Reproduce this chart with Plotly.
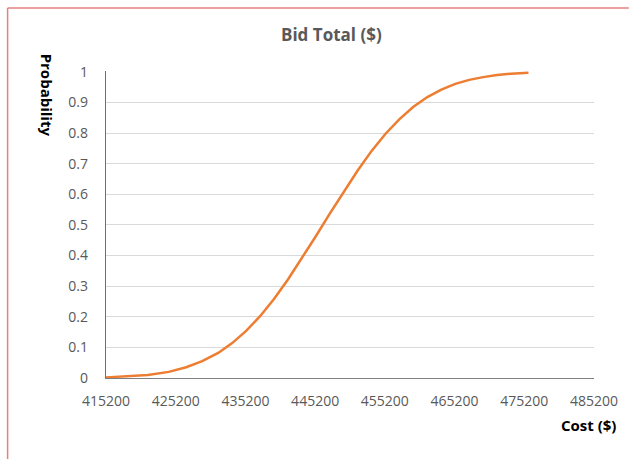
import plotly.graph_objects as go

# Cumulative probability of the bid total
cost = [415200, 418200, 421200, 424200, 426700, 429000, 431300, 433300, 435300,
        437300, 439300, 441300, 443300, 445300, 447300, 449300, 451300, 453300,
        455300, 457300, 459300, 461300, 463300, 465300, 467300, 469300, 471300,
        473300, 475800]
probability = [0.002, 0.005, 0.010, 0.020, 0.035, 0.055, 0.082, 0.114, 0.154,
               0.202, 0.258, 0.322, 0.391, 0.463, 0.537, 0.609, 0.678, 0.742,
               0.798, 0.846, 0.886, 0.918, 0.942, 0.961, 0.974, 0.983, 0.990,
               0.994, 0.997]

x_ticks = [415200, 425200, 435200, 445200, 455200, 465200, 475200, 485200]
y_ticks = [0, 0.1, 0.2, 0.3, 0.4, 0.5, 0.6, 0.7, 0.8, 0.9, 1]
y_tick_text = ["0", "0.1", "0.2", "0.3", "0.4", "0.5", "0.6", "0.7", "0.8", "0.9", "1"]

W, H = 630, 459
L, R, T, B = 106, 33, 71, 81
pw, ph = W - L - R, H - T - B

def px_x(p):
    return (p - L) / pw

def px_y(p):
    return (H - B - p) / ph

font = "Open Sans"
grey = "#595959"

fig = go.Figure()
fig.add_trace(go.Scatter(
    x=cost, y=probability, mode="lines",
    line=dict(color="#ED7D31", width=2.5),
    showlegend=False, hoverinfo="x+y",
))

fig.update_layout(
    width=W, height=H,
    margin=dict(l=L, r=R, t=T, b=B, pad=0),
    paper_bgcolor="white", plot_bgcolor="white",
    font=dict(family=font, color=grey, size=14),
    xaxis=dict(
        range=[415200, 485200], tickvals=x_ticks,
        ticktext=[str(v) for v in x_ticks],
        showgrid=False, zeroline=False,
        showline=True, linecolor="#7f7f7f", linewidth=1.3,
        ticks="", ticklabelstandoff=10,
        tickfont=dict(family=font, size=14, color=grey),
    ),
    yaxis=dict(
        range=[0, 1.003], tickvals=y_ticks, ticktext=y_tick_text,
        showgrid=True, gridcolor="#d9d9d9", gridwidth=1,
        zeroline=False,
        showline=True, linecolor="#6f6f6f", linewidth=1.3,
        ticks="", ticklabelstandoff=14,
        tickfont=dict(family=font, size=14, color=grey),
    ),
    annotations=[
        dict(text="<b>Bid Total ($)</b>", xref="paper", yref="paper",
             x=px_x(333), y=px_y(35), showarrow=False,
             xanchor="center", yanchor="middle",
             font=dict(family=font, size=17, color=grey)),
        dict(text="<b>Cost ($)</b>", xref="paper", yref="paper",
             x=px_x(621), y=px_y(425), showarrow=False,
             xanchor="right", yanchor="middle",
             font=dict(family=font, size=15, color="black")),
        dict(text="<b>Probability</b>", xref="paper", yref="paper",
             x=px_x(47), y=px_y(95), showarrow=False, textangle=90,
             xanchor="center", yanchor="middle",
             font=dict(family=font, size=15, color="black")),
    ],
    shapes=[
        dict(type="line", xref="paper", yref="paper",
             x0=px_x(7), x1=px_x(7), y0=px_y(8), y1=px_y(H + 2),
             line=dict(color="#e57f7f", width=1.5)),
        dict(type="line", xref="paper", yref="paper",
             x0=px_x(7), x1=px_x(W + 2), y0=px_y(8), y1=px_y(8),
             line=dict(color="#e57f7f", width=1.5)),
    ],
)

fig.write_html("out.html")
